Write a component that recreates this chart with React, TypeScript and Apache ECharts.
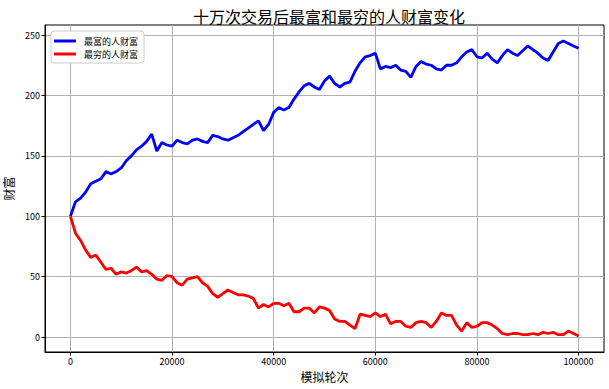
import React, { useEffect, useRef } from "react";
import * as echarts from "echarts";

const TITLE = "十万次交易后最富和最穷的人财富变化";
const X_NAME = "模拟轮次";
const Y_NAME = "财富";
const SERIES_NAMES = ["最富的人财富", "最穷的人财富"];
const STEP = 1000;
const X_TICKS = [0, 20000, 40000, 60000, 80000, 100000];
const Y_TICKS = [0, 50, 100, 150, 200, 250];

const richest = [
  100, 112, 115, 120, 127, 129, 131, 137, 135, 137,
  140, 146, 150, 155, 158, 162, 168, 154, 161, 159,
  158, 163, 161, 160, 163, 164, 162, 161, 167, 166,
  164, 163, 165, 167, 170, 173, 176, 179, 171, 176,
  186, 190, 188, 190, 197, 203, 208, 210, 207, 205,
  212, 216, 210, 207, 210, 211, 220, 227, 232, 233,
  235, 222, 224, 223, 225, 221, 220, 215, 224, 228,
  226, 225, 222, 221, 225, 225, 227, 232, 236, 238,
  232, 231, 235, 230, 227, 233, 238, 235, 233, 237,
  241, 238, 235, 231, 229, 236, 243, 245, 243, 241,
  239,
];

const poorest = [
  100, 86, 80, 72, 66, 68, 62, 56, 57, 52,
  54, 53, 55, 58, 54, 55, 52, 48, 47, 51,
  50, 45, 43, 48, 49, 50, 45, 42, 36, 33,
  36, 39, 37, 35, 35, 34, 32, 24, 27, 25,
  28, 28, 26, 28, 21, 21, 24, 24, 20, 25,
  24, 22, 15, 13, 13, 10, 7, 19, 18, 17,
  20, 17, 19, 11, 13, 13, 9, 8, 12, 13,
  12, 8, 13, 20, 18, 18, 10, 5, 12, 8,
  9, 12, 12, 10, 7, 3, 2, 3, 3, 2,
  2, 3, 2, 4, 3, 4, 2, 2, 5, 3,
  1,
];

const FONT = "'Noto Sans CJK SC', 'DejaVu Sans', sans-serif";

export default function App() {
  const ref = useRef<HTMLDivElement>(null);
  useEffect(() => {
    if (!ref.current) return;
    const chart = echarts.init(ref.current, null, { renderer: "svg" });
    const toPairs = (arr: number[]) => arr.map((v, i) => [i * STEP, v]);
    chart.setOption({
      animation: false,
      backgroundColor: "#ffffff",
      textStyle: { fontFamily: FONT },
      title: {
        text: TITLE,
        left: 324,
        top: 3,
        textAlign: "center",
        textStyle: { fontSize: 16, fontWeight: "normal", color: "#000", fontFamily: FONT },
      },
      legend: {
        orient: "vertical",
        left: 51,
        top: 31,
        data: SERIES_NAMES,
        icon: "rect",
        itemWidth: 22,
        itemHeight: 3,
        itemGap: 3,
        backgroundColor: "#ffffff",
        borderColor: "#cccccc",
        borderWidth: 1,
        borderRadius: 3,
        padding: [5, 6, 4, 3],
        textStyle: { fontSize: 9, lineHeight: 10, color: "#000", padding: [0, 0, 0, 3], fontFamily: FONT },
      },
      grid: {
        left: 45,
        right: 5,
        top: 25,
        bottom: 37,
        containLabel: false,
        outerBoundsMode: "none",
        show: true,
        borderColor: "#000",
        borderWidth: 1,
        backgroundColor: "transparent",
      },
      xAxis: {
        type: "value",
        min: -5000,
        max: 105000,
        name: X_NAME,
        nameLocation: "middle",
        nameGap: 18,
        nameTextStyle: { fontSize: 12, color: "#000", fontFamily: FONT },
        axisLine: { show: true, onZero: false, lineStyle: { color: "#000", width: 1 } },
        axisTick: { show: true, inside: false, length: 3.5, customValues: X_TICKS, lineStyle: { color: "#000" } },
        axisLabel: {
          customValues: X_TICKS,
          fontSize: 9,
          color: "#000",
          margin: 5,
          fontFamily: FONT,
          formatter: (v: number) => String(v),
        },
        splitLine: { show: true, lineStyle: { color: "#b0b0b0", width: 1 } },
      },
      yAxis: {
        type: "value",
        min: -12.3,
        max: 258.3,
        name: Y_NAME,
        nameLocation: "middle",
        nameGap: 29,
        nameRotate: 90,
        nameTextStyle: { fontSize: 12, color: "#000", fontFamily: FONT },
        axisLine: { show: true, onZero: false, lineStyle: { color: "#000", width: 1 } },
        axisTick: { show: true, inside: false, length: 3.5, customValues: Y_TICKS, lineStyle: { color: "#000" } },
        axisLabel: {
          customValues: Y_TICKS,
          fontSize: 9,
          color: "#000",
          margin: 5,
          fontFamily: FONT,
          formatter: (v: number) => String(v),
        },
        splitLine: { show: true, lineStyle: { color: "#b0b0b0", width: 1 } },
      },
      series: [
        {
          name: SERIES_NAMES[0],
          type: "line",
          data: toPairs(richest),
          showSymbol: false,
          symbol: "none",
          lineStyle: { color: "#0000ff", width: 2.8 },
          itemStyle: { color: "#0000ff" },
        },
        {
          name: SERIES_NAMES[1],
          type: "line",
          data: toPairs(poorest),
          showSymbol: false,
          symbol: "none",
          lineStyle: { color: "#ff0000", width: 2.8 },
          itemStyle: { color: "#ff0000" },
        },
      ],
    });
    return () => chart.dispose();
  }, []);
  return (
    <div
      ref={ref}
      style={{ position: "fixed", left: 0, top: 0, width: 609, height: 389 }}
    />
  );
}
